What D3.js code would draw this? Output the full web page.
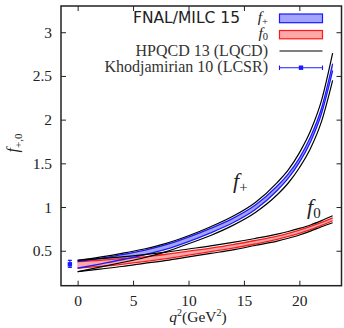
<!DOCTYPE html>
<html><head><meta charset="utf-8">
<script src="https://cdn.jsdelivr.net/npm/d3@7"></script>
<style>body{margin:0;background:#fff}svg{display:block}</style>
</head><body>
<svg id="c" width="344" height="328"></svg>
<script>
// ---- data ----
const q2 = [0, 2, 4, 6, 8, 10, 12, 14, 16, 18, 19, 20, 21, 22, 23];
const fnalFpUpper = [0.375, 0.412, 0.455, 0.505, 0.570, 0.655, 0.755, 0.870, 1.020, 1.240, 1.380, 1.560, 1.800, 2.130, 2.640];
const fnalFpLower = [0.300, 0.348, 0.397, 0.452, 0.518, 0.605, 0.705, 0.820, 0.970, 1.190, 1.330, 1.510, 1.745, 2.070, 2.560];
const fnalF0Upper = [0.375, 0.390, 0.410, 0.430, 0.460, 0.495, 0.530, 0.570, 0.617, 0.668, 0.700, 0.737, 0.778, 0.825, 0.877];
const fnalF0Lower = [0.300, 0.320, 0.345, 0.375, 0.410, 0.450, 0.490, 0.530, 0.577, 0.630, 0.663, 0.700, 0.742, 0.790, 0.843];
const hpqcdFpUpper = [0.39, 0.427, 0.47, 0.52, 0.585, 0.672, 0.775, 0.895, 1.05, 1.28, 1.425, 1.62, 1.87, 2.22, 2.76];
const hpqcdFpLower = [0.26, 0.312, 0.365, 0.42, 0.49, 0.58, 0.675, 0.79, 0.935, 1.14, 1.275, 1.45, 1.67, 1.98, 2.45];
const hpqcdF0Upper = [0.39, 0.41, 0.43, 0.455, 0.485, 0.52, 0.555, 0.595, 0.64, 0.69, 0.72, 0.755, 0.795, 0.845, 0.90];
const hpqcdF0Lower = [0.26, 0.29, 0.32, 0.355, 0.39, 0.43, 0.47, 0.51, 0.56, 0.61, 0.643, 0.68, 0.725, 0.775, 0.82];
const lcsrQ2 = [-0.7];
const lcsrVal = [0.345];
const lcsrErrUp = [0.045];
const lcsrErrDown = [0.035];
const xTicks = [0, 5, 10, 15, 20];
const yTicks = [0.5, 1, 1.5, 2, 2.5, 3];
const legendLabels = ["FNAL/MILC 15", "HPQCD 13 (LQCD)", "Khodjamirian 10 (LCSR)"];

// ---- layout ----
const L = 61, R = 341.5, T = 6, B = 285.7;
const svg = d3.select("#c");
const x = d3.scaleLinear().domain([-1.5, 23.8]).range([L, R]);
const y = d3.scaleLinear().domain([0.1, 3.3]).range([B, T]);
const serif = "'Liberation Serif', 'Times New Roman', serif";
const blue = "#1a1aff", red = "#ff1a1a";
const blueFill = "#a4a4ff", redFill = "#ffa8a8";

svg.append("defs").append("clipPath").attr("id", "pc")
  .append("rect").attr("x", L).attr("y", T).attr("width", R - L).attr("height", B - T);
const plot = svg.append("g").attr("clip-path", "url(#pc)");

function band(up, lo) {
  return d3.area().x((d, i) => x(q2[i])).y0((d, i) => y(lo[i])).y1((d, i) => y(up[i]))
    .curve(d3.curveMonotoneX)(q2);
}
function line(v) {
  return d3.line().x((d, i) => x(q2[i])).y((d, i) => y(v[i])).curve(d3.curveMonotoneX)(q2);
}

// fills
plot.append("path").attr("d", band(fnalFpUpper, fnalFpLower)).attr("fill", blueFill);
plot.append("path").attr("d", band(fnalF0Upper, fnalF0Lower)).attr("fill", redFill);
// edges
[fnalF0Upper, fnalF0Lower].forEach(v => plot.append("path").attr("d", line(v))
  .attr("fill", "none").attr("stroke", red).attr("stroke-width", 1.3));
[fnalFpUpper, fnalFpLower].forEach(v => plot.append("path").attr("d", line(v))
  .attr("fill", "none").attr("stroke", blue).attr("stroke-width", 1.3));
[hpqcdFpUpper, hpqcdFpLower, hpqcdF0Upper, hpqcdF0Lower].forEach(v => plot.append("path").attr("d", line(v))
  .attr("fill", "none").attr("stroke", "#000").attr("stroke-width", 1.2));

// LCSR point
lcsrQ2.forEach((q, i) => {
  const cx = x(q), cy = y(lcsrVal[i]);
  const yt = y(lcsrVal[i] + lcsrErrUp[i]), yb = y(lcsrVal[i] - lcsrErrDown[i]);
  const g = plot.append("g").attr("stroke", blue).attr("stroke-width", 1.1);
  g.append("line").attr("x1", cx).attr("x2", cx).attr("y1", yt).attr("y2", yb);
  g.append("line").attr("x1", cx - 2).attr("x2", cx + 2).attr("y1", yt).attr("y2", yt);
  g.append("line").attr("x1", cx - 2).attr("x2", cx + 2).attr("y1", yb).attr("y2", yb);
  plot.append("rect").attr("x", cx - 2.2).attr("y", cy - 2.2).attr("width", 4.4).attr("height", 4.4).attr("fill", blue);
});

// axes
function styleAxis(g) {
  g.select(".domain").remove();
  g.selectAll(".tick line").attr("stroke", "#222").attr("stroke-width", 1);
  g.selectAll(".tick text").attr("font-family", serif).attr("font-size", "15.5px").attr("fill", "#222");
}
svg.append("g").attr("transform", `translate(0,${B})`)
  .call(d3.axisBottom(x).tickValues(xTicks).tickSizeInner(-5).tickSizeOuter(0).tickPadding(9).tickFormat(d3.format("d")))
  .call(styleAxis);
svg.append("g").attr("transform", `translate(0,${T})`)
  .call(d3.axisTop(x).tickValues(xTicks).tickSizeInner(-5).tickSizeOuter(0).tickFormat(""))
  .call(styleAxis);
svg.append("g").attr("transform", `translate(${L},0)`)
  .call(d3.axisLeft(y).tickValues(yTicks).tickSizeInner(-5).tickSizeOuter(0).tickPadding(9).tickFormat(d => String(d)))
  .call(styleAxis);
svg.append("g").attr("transform", `translate(${R},0)`)
  .call(d3.axisRight(y).tickValues(yTicks).tickSizeInner(-5).tickSizeOuter(0).tickFormat(""))
  .call(styleAxis);

// frame
svg.append("rect").attr("x", L).attr("y", T).attr("width", R - L).attr("height", B - T)
  .attr("fill", "none").attr("stroke", "#222").attr("stroke-width", 1.5);

// axis labels
const xl = svg.append("text").attr("x", 198).attr("y", 322).attr("text-anchor", "middle")
  .attr("font-family", serif).attr("font-size", "15.5px").attr("fill", "#222");
xl.append("tspan").attr("font-style", "italic").text("q");
xl.append("tspan").attr("font-size", "10px").attr("dy", -6).text("2");
xl.append("tspan").attr("dy", 6).text("(GeV");
xl.append("tspan").attr("font-size", "10px").attr("dy", -6).text("2");
xl.append("tspan").attr("dy", 6).text(")");

const yl = svg.append("text").attr("transform", "translate(18,143) rotate(-90)").attr("text-anchor", "middle")
  .attr("font-family", serif).attr("font-size", "16px").attr("fill", "#222");
yl.append("tspan").attr("font-style", "italic").text("f");
yl.append("tspan").attr("font-size", "11px").attr("dy", 4).text("+,0");

// curve labels
function fLabel(px, py, sub, size, shift) {
  const t = svg.append("text").attr("x", px).attr("y", py).attr("font-family", serif)
    .attr("font-size", size + "px").attr("fill", "#222");
  t.append("tspan").attr("font-style", "italic").text("f");
  t.append("tspan").attr("font-size", (size * 0.68) + "px").attr("dy", shift).text(sub);
  return t;
}
fLabel(233, 188, "+", 22, 4.4);
fLabel(307, 214, "0", 22, 4.4);

// legend
const lx0 = 279.5, lx1 = 322.5, tr = 268;
svg.append("text").attr("x", 240).attr("y", 23.3).attr("text-anchor", "end")
  .attr("font-family", "'DejaVu Sans', sans-serif").attr("font-size", "15.5px").attr("fill", "#222").text(legendLabels[0]);
fLabel(0, 0, "+", 15.5, 2.5).attr("text-anchor", "end").attr("x", tr).attr("y", 22);
fLabel(0, 0, "0", 15.5, 2.5).attr("text-anchor", "end").attr("x", tr).attr("y", 37.5);
svg.append("rect").attr("x", lx0).attr("y", 14).attr("width", lx1 - lx0).attr("height", 8.7)
  .attr("fill", blueFill).attr("stroke", blue).attr("stroke-width", 1.2);
svg.append("rect").attr("x", lx0).attr("y", 30.5).attr("width", lx1 - lx0).attr("height", 8.3)
  .attr("fill", redFill).attr("stroke", red).attr("stroke-width", 1.2);
svg.append("text").attr("x", tr).attr("y", 55.5).attr("text-anchor", "end")
  .attr("font-family", serif).attr("font-size", "16px").attr("fill", "#333").text(legendLabels[1]);
svg.append("line").attr("x1", lx0).attr("x2", lx1).attr("y1", 51).attr("y2", 51).attr("stroke", "#000").attr("stroke-width", 1.2);
svg.append("text").attr("x", tr).attr("y", 72).attr("text-anchor", "end")
  .attr("font-family", serif).attr("font-size", "16px").attr("fill", "#333").text(legendLabels[2]);
const lg = svg.append("g").attr("stroke", blue).attr("stroke-width", 1.1);
lg.append("line").attr("x1", lx0).attr("x2", lx1).attr("y1", 67.7).attr("y2", 67.7);
lg.append("line").attr("x1", lx0).attr("x2", lx0).attr("y1", 65.5).attr("y2", 70);
lg.append("line").attr("x1", lx1).attr("x2", lx1).attr("y1", 65.5).attr("y2", 70);
svg.append("rect").attr("x", (lx0 + lx1) / 2 - 2.2).attr("y", 67.7 - 2.2).attr("width", 4.4).attr("height", 4.4).attr("fill", blue);
</script>
</body></html>
